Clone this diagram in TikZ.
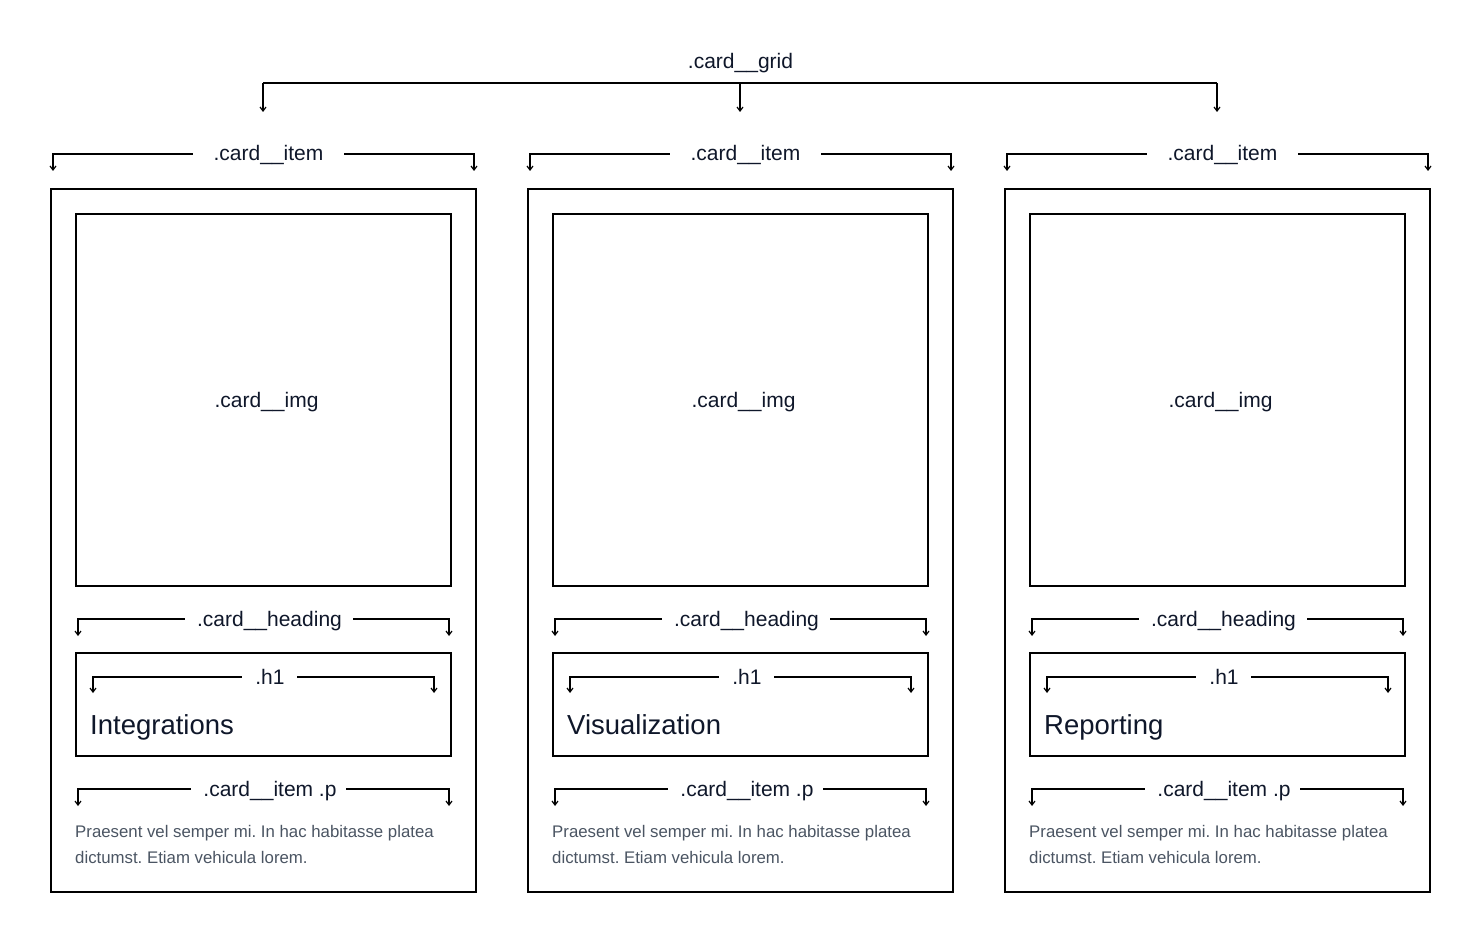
\documentclass[tikz,border=0pt]{standalone}
\usepackage{fontspec}
\setmainfont{Liberation Sans}
\usetikzlibrary{arrows.meta}
\definecolor{ink}{HTML}{0F172A}
\definecolor{para}{HTML}{4B5563}
\tikzset{
  tip/.tip={Straight Barb[length=4pt,width=6pt,line width=1.2pt]},
  brl/.style={line width=1.6pt,{tip}-},
  brr/.style={line width=1.6pt,-{tip}},
  brd/.style={line width=1.6pt,-{tip}},
  brn/.style={line width=1.6pt},
  lbl/.style={anchor=base,inner sep=0pt,text=ink,font=\fontsize{21}{24}\selectfont},
  ttl/.style={anchor=base west,inner sep=0pt,text=ink,font=\fontsize{27.5}{30}\selectfont},
  par/.style={anchor=base west,inner sep=0pt,text=para,font=\frenchspacing\fontsize{16.8}{26}\selectfont},
  boxx/.style={draw=black,line width=2pt,fill=none}
}
\begin{document}
\begin{tikzpicture}[x=1pt,y=-1pt]
\useasboundingbox[fill=white] (0,0) rectangle (1481,944);
% grid bracket
\node[lbl] (grid) at (740.5,69) {.card\_\_grid};
\coordinate (gL) at (263,83);
\coordinate (gM) at (740,83);
\coordinate (gR) at (1217,83);
\draw[brn] (gL) -- (gR);
\draw[brd] (gL) -- ++(0,29);
\draw[brd] (gM) -- ++(0,29);
\draw[brd] (gR) -- ++(0,29);
\foreach \o/\t/\n in {0/Integrations/a,477/Visualization/b,954/Reporting/c}{
  \begin{scope}[xshift=\o pt]
    % card item bracket
    \node[lbl] (item\n) at (268.5,161) {.card\_\_item};
    \draw[brl] (53,171) -- (53,154) -- (193,154);
    \draw[brr] (344,154) -- (474,154) -- (474,171);
    % card box
    \node[boxx,minimum width=425pt,minimum height=703pt,inner sep=0pt] (card\n) at (263.5,540.5) {};
    % image
    \node[boxx,minimum width=375pt,minimum height=372pt,inner sep=0pt] (img\n) at (263.5,400) {};
    \node[lbl] (imgl\n) at (266.5,407) {.card\_\_img};
    % heading bracket
    \node[lbl] (head\n) at (269.5,626) {.card\_\_heading};
    \draw[brl] (78,636) -- (78,619) -- (185,619);
    \draw[brr] (353,619) -- (449,619) -- (449,636);
    % h1 box
    \node[boxx,minimum width=375pt,minimum height=103pt,inner sep=0pt] (hbox\n) at (263.5,704.5) {};
    \node[lbl] (h\n) at (270,684) {.h1};
    \draw[brl] (93,693) -- (93,677) -- (242,677);
    \draw[brr] (297,677) -- (434,677) -- (434,693);
    \node[ttl] (title\n) at (90,734) {\t};
    % p bracket
    \node[lbl] (p\n) at (270,796) {.card\_\_item .p};
    \draw[brl] (78,806) -- (78,789) -- (191,789);
    \draw[brr] (346,789) -- (449,789) -- (449,806);
    \node[par] (txt\n) at (75,837) {Praesent vel semper mi. In hac habitasse platea};
    \node[par] (txtb\n) at (75,863) {dictumst. Etiam vehicula lorem.};
  \end{scope}
}
\end{tikzpicture}
\end{document}
